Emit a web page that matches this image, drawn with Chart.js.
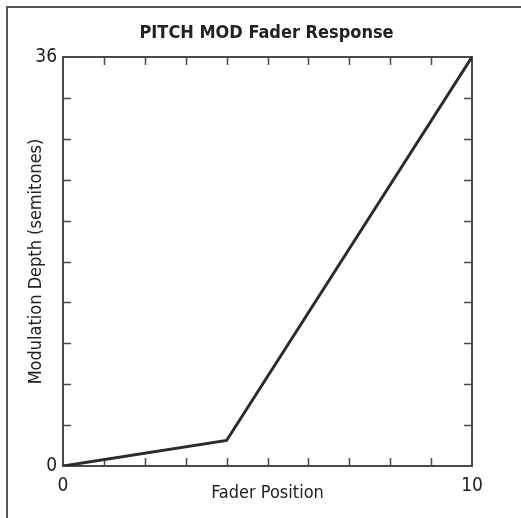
<!DOCTYPE html>
<html>
<head>
<meta charset="utf-8">
<script src="https://cdn.jsdelivr.net/npm/chart.js@4.4.0/dist/chart.umd.min.js"></script>
<style>
    html, body { margin: 0; padding: 0; background: #fff; }
    #wrap { position: relative; width: 521px; height: 518px; }
    #frame {
        position: absolute; left: 6px; top: 6px; right: 0; bottom: 0;
        border-left: 2px solid #555; border-top: 2px solid #555;
        pointer-events: none;
    }
</style>
</head>
<body>
<div id="wrap">
    <canvas id="chart" width="521" height="518"></canvas>
    <div id="frame"></div>
</div>
<script>
// fader position -> pitch modulation depth
const faderPos = [0, 4, 10];
const modDepth = [0, 2.25, 36];

// tick marks along each axis (only the ends get a number)
const xTicks = [0, 1, 2, 3, 4, 5, 6, 7, 8, 9, 10];
const yTicks = [0, 3.6, 7.2, 10.8, 14.4, 18, 21.6, 25.2, 28.8, 32.4, 36];
const xLabels = { 0: '0', 10: '10' };
const yLabels = { 0: '0', 36: '36' };

const FONT = "'Liberation Sans Narrow', 'DejaVu Sans Condensed', sans-serif";
const INK = '#4a4a4a';

const points = faderPos.map((x, i) => ({ x: x, y: modDepth[i] }));

// box around the plot with inward ticks on all four sides
const frameTicks = {
    id: 'frameTicks',
    beforeDatasetsDraw(chart) {
        const { ctx, chartArea: a, scales } = chart;
        const len = 8;
        ctx.save();
        ctx.strokeStyle = INK;
        ctx.lineWidth = 2;
        ctx.strokeRect(a.left, a.top, a.right - a.left, a.bottom - a.top);
        ctx.beginPath();
        xTicks.slice(1, -1).forEach(v => {
            const px = Math.round(scales.x.getPixelForValue(v)) + 0.5;
            ctx.moveTo(px, a.bottom); ctx.lineTo(px, a.bottom - len);
            ctx.moveTo(px, a.top); ctx.lineTo(px, a.top + len);
        });
        yTicks.slice(1, -1).forEach(v => {
            const py = Math.round(scales.y.getPixelForValue(v)) + 0.5;
            ctx.moveTo(a.left, py); ctx.lineTo(a.left + len, py);
            ctx.moveTo(a.right, py); ctx.lineTo(a.right - len, py);
        });
        ctx.lineWidth = 1.5;
        ctx.stroke();
        ctx.restore();
    }
};

new Chart(document.getElementById('chart'), {
    type: 'scatter',
    data: {
        datasets: [{
            data: points,
            showLine: true,
            borderColor: '#2b2b2b',
            borderWidth: 3,
            pointRadius: 0,
            tension: 0
        }]
    },
    options: {
        responsive: false,
        animation: false,
        layout: { padding: { top: 23, right: 0, bottom: 0, left: 12 } },
        plugins: {
            legend: { display: false },
            tooltip: { enabled: false },
            title: {
                display: true,
                text: 'PITCH MOD Fader Response',
                color: '#222',
                font: { family: FONT, size: 18, weight: 'bold', lineHeight: 1.2 },
                padding: { top: 0, bottom: 12.4 }
            }
        },
        scales: {
            x: {
                type: 'linear',
                min: 0,
                max: 10,
                afterBuildTicks: s => { s.ticks = xTicks.map(v => ({ value: v })); },
                afterFit: s => { s.height = 52; },
                grid: { display: false, drawTicks: false },
                border: { display: false },
                ticks: {
                    autoSkip: false,
                    maxRotation: 0,
                    padding: 9,
                    color: '#222',
                    font: { family: FONT, size: 19 },
                    callback: v => xLabels[v] || ''
                },
                title: {
                    display: true,
                    text: 'Fader Position',
                    color: '#222',
                    font: { family: FONT, size: 18 },
                    padding: { top: 0, bottom: 14 }
                }
            },
            y: {
                type: 'linear',
                min: 0,
                max: 36,
                afterBuildTicks: s => { s.ticks = yTicks.map(v => ({ value: v })); },
                afterFit: s => { s.width = 51; },
                grid: { display: false, drawTicks: false },
                border: { display: false },
                ticks: {
                    autoSkip: false,
                    padding: 6,
                    color: '#222',
                    font: { family: FONT, size: 19 },
                    callback: v => yLabels[v] || ''
                },
                title: {
                    display: true,
                    text: 'Modulation Depth (semitones)',
                    color: '#222',
                    font: { family: FONT, size: 18 },
                    padding: { top: 14, bottom: 0 }
                }
            },
            // empty right-hand scale that keeps room beside the plot
            yRight: {
                type: 'linear',
                position: 'right',
                min: 0,
                max: 36,
                afterFit: s => { s.width = 49; },
                grid: { display: false, drawTicks: false },
                border: { display: false },
                ticks: { display: false }
            }
        }
    },
    plugins: [frameTicks]
});
</script>
</body>
</html>
